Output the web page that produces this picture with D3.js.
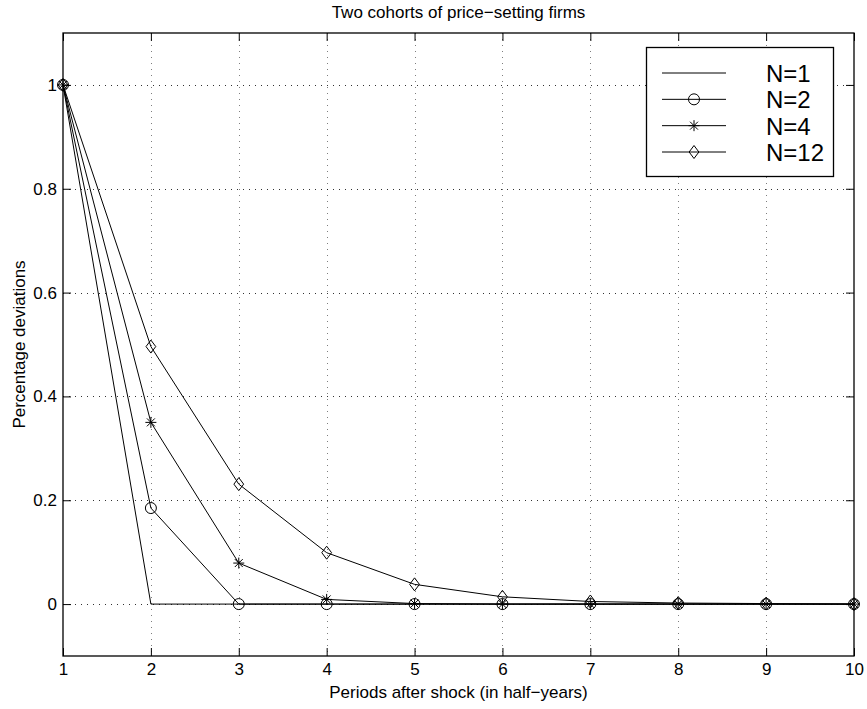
<!DOCTYPE html>
<html><head><meta charset="utf-8">
<script src="https://cdn.jsdelivr.net/npm/d3@7"></script>
<style>body{margin:0;background:#fff}text{font-family:"Liberation Sans",Arial,sans-serif;fill:#000}</style>
</head><body>
<svg id="c" width="867" height="709"></svg>
<script>
const periods = [1,2,3,4,5,6,7,8,9,10];
const seriesNames = ["N=1","N=2","N=4","N=12"];
const n1 = [1,0,0,0,0,0,0,0,0,0];
const n2 = [1,0.185,0,0,0,0,0,0,0,0];
const n4 = [1,0.35,0.079,0.009,0.001,0,0,0,0,0];
const n12 = [1,0.496,0.231,0.099,0.038,0.014,0.005,0.002,0.001,0];
const markers = ["none","circle","star","diamond"];
const xTicks = [1,2,3,4,5,6,7,8,9,10];
const yTicks = [0,0.2,0.4,0.6,0.8,1];
const title = "Two cohorts of price\u2212setting firms";
const xLabel = "Periods after shock (in half\u2212years)";
const yLabel = "Percentage deviations";

const series = [n1,n2,n4,n12];
const svg = d3.select("#c");
const L=63,R=854,T=33,B=656;
const x = d3.scaleLinear().domain([1,10]).range([L,R]);
const y = d3.scaleLinear().domain([-0.1,1.1]).range([B,T]);

// grid
const g = svg.append("g");
g.selectAll(".vg").data(xTicks.filter(d=>d>1&&d<10)).join("line")
 .attr("x1",d=>Math.round(x(d))+0.5).attr("x2",d=>Math.round(x(d))+0.5).attr("y1",T).attr("y2",B)
 .attr("stroke","#000").attr("stroke-width",1).attr("stroke-dasharray","1,5").attr("opacity",0.5);
g.selectAll(".hg").data(yTicks).join("line")
 .attr("y1",d=>Math.round(y(d))+0.5).attr("y2",d=>Math.round(y(d))+0.5).attr("x1",L).attr("x2",R)
 .attr("stroke","#000").attr("stroke-width",1).attr("stroke-dasharray","1,5").attr("opacity",0.8);

// axes
const ax = svg.append("g").attr("transform",`translate(0,${B})`)
 .call(d3.axisBottom(x).tickValues(xTicks).tickSize(-8).tickPadding(7).tickFormat(d3.format("d")));
const axT = svg.append("g").attr("transform",`translate(0,${T})`)
 .call(d3.axisTop(x).tickValues(xTicks).tickSize(-8).tickFormat(""));
const ay = svg.append("g").attr("transform",`translate(${L},0)`)
 .call(d3.axisLeft(y).tickValues(yTicks).tickSize(-8).tickPadding(6).tickFormat(d=>d3.format("")(d)));
const ayR = svg.append("g").attr("transform",`translate(${R},0)`)
 .call(d3.axisRight(y).tickValues(yTicks).tickSize(-8).tickFormat(""));
[ax,axT,ay,ayR].forEach(a=>{
  a.attr("font-size",17).attr("font-family","Liberation Sans, Arial, sans-serif");
  a.select(".domain").remove();
  a.selectAll("line").attr("stroke","#000");
  a.selectAll("text").attr("font-size",17).style("font-size","17px");
});
svg.append("rect").attr("x",L).attr("y",T).attr("width",R-L).attr("height",B-T).attr("fill","none").attr("stroke","#000").attr("stroke-width",1.3);

// lines
const line = d3.line().x((d,i)=>x(periods[i])).y(d=>y(d));
series.forEach((s,k)=>{
  svg.append("path").datum(s).attr("d",line).attr("fill","none").attr("stroke","#000").attr("stroke-width",1);
});

function drawMarker(sel,type,cx,cy){
  if(type==="circle"){
    sel.append("circle").attr("cx",cx).attr("cy",cy).attr("r",5.5).attr("fill","none").attr("stroke","#000").attr("stroke-width",1);
  } else if(type==="diamond"){
    const r=6.5;
    sel.append("path").attr("d",`M${cx},${cy-r}L${cx+r*0.75},${cy}L${cx},${cy+r}L${cx-r*0.75},${cy}Z`).attr("fill","none").attr("stroke","#000").attr("stroke-width",1);
  } else if(type==="star"){
    const r=5.5;
    let d=`M${cx-r},${cy}L${cx+r},${cy}M${cx},${cy-r}L${cx},${cy+r}`;
    const q=r*0.72;
    d+=`M${cx-q},${cy-q}L${cx+q},${cy+q}M${cx-q},${cy+q}L${cx+q},${cy-q}`;
    sel.append("path").attr("d",d).attr("stroke","#000").attr("stroke-width",1);
  }
}
series.forEach((s,k)=>{
  if(markers[k]==="none") return;
  const mg = svg.append("g");
  s.forEach((v,i)=>drawMarker(mg,markers[k],x(periods[i]),y(v)));
});

// labels
svg.append("text").attr("x",(L+R)/2).attr("y",18).attr("text-anchor","middle").attr("font-size",17).style("font-size","17px").text(title);
svg.append("text").attr("x",(L+R)/2).attr("y",698).attr("text-anchor","middle").attr("font-size",17).style("font-size","17px").text(xLabel);
svg.append("text").attr("transform",`translate(25,${(T+B)/2}) rotate(-90)`).attr("text-anchor","middle").attr("font-size",17).style("font-size","17px").text(yLabel);

// legend
const lg = svg.append("g");
lg.append("rect").attr("x",646.5).attr("y",47.5).attr("width",187).attr("height",129).attr("fill","#fff").attr("stroke","#000").attr("stroke-width",1.3);
const rowY = d3.scaleLinear().domain([0,3]).range([73,152]);
seriesNames.forEach((nm,k)=>{
  const yy = rowY(k);
  lg.append("line").attr("x1",662).attr("x2",726).attr("y1",yy).attr("y2",yy).attr("stroke","#000");
  if(markers[k]!=="none") drawMarker(lg,markers[k],694,yy);
  lg.append("text").attr("x",766).attr("y",yy+9).attr("font-size",24).style("font-size","24px").text(nm);
});
</script>
</body></html>
